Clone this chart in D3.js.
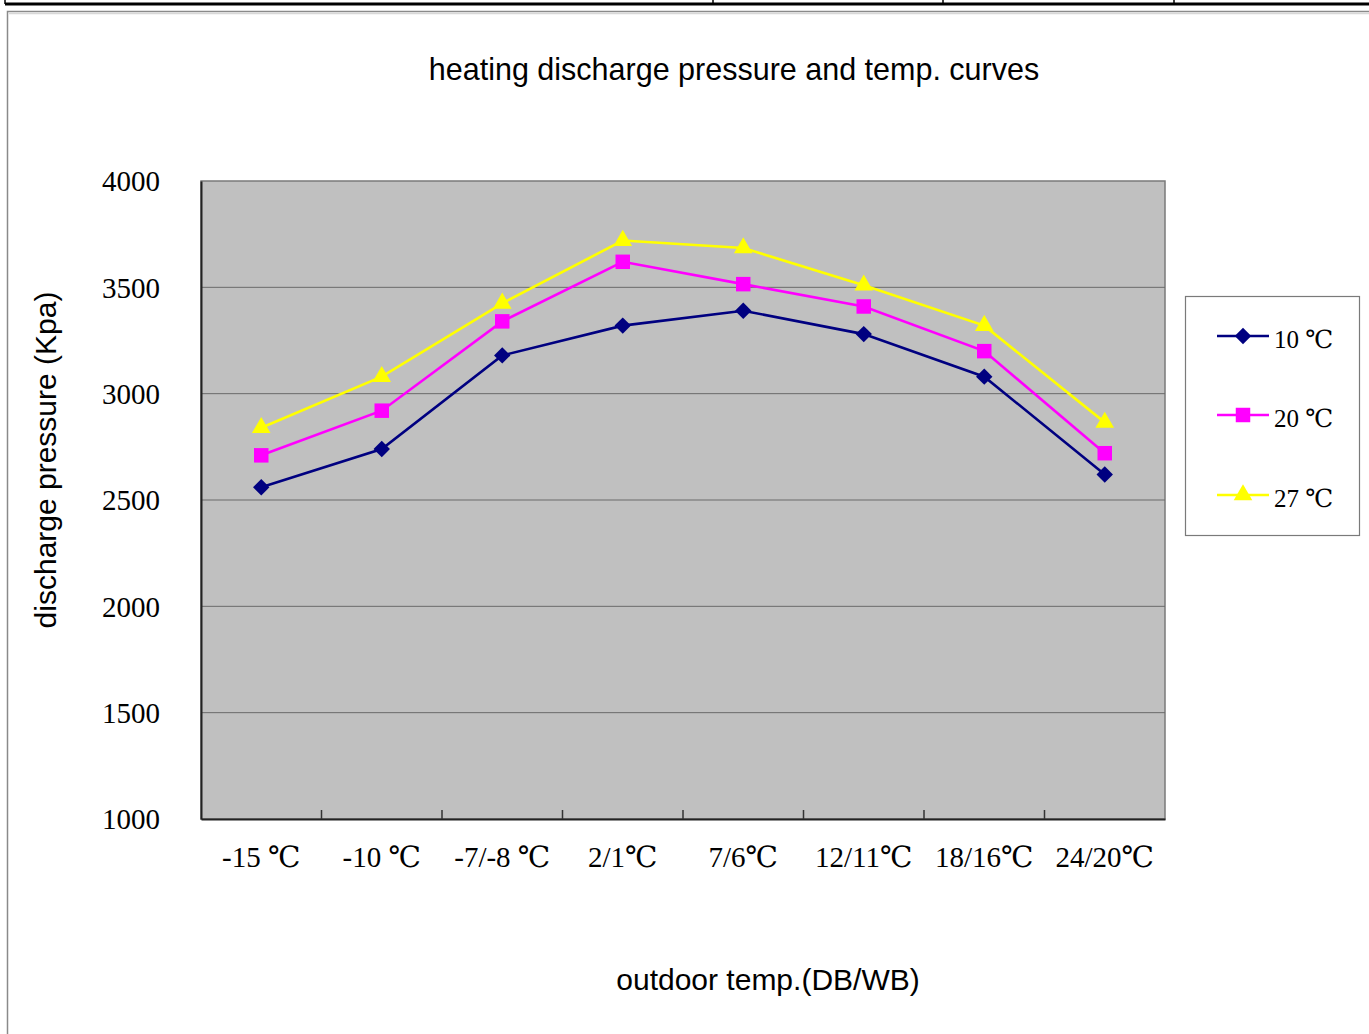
<!DOCTYPE html>
<html>
<head>
<meta charset="utf-8">
<script src="https://cdn.jsdelivr.net/npm/d3@7"></script>
<style>
  html, body { margin: 0; padding: 0; background: #fff; }
  svg { display: block; }
</style>
</head>
<body>
<svg id="chart" width="1369" height="1034"></svg>
<script>
// Outdoor conditions (DB/WB) along the x axis
const categories = ["-15 \u2103", "-10 \u2103", "-7/-8 \u2103", "2/1\u2103", "7/6\u2103", "12/11\u2103", "18/16\u2103", "24/20\u2103"];

// Discharge pressure (Kpa) for each indoor temperature
const series10 = [2560, 2740, 3180, 3320, 3390, 3280, 3080, 2620];
const series20 = [2710, 2920, 3340, 3620, 3515, 3410, 3200, 2720];
const series27 = [2840, 3080, 3425, 3720, 3685, 3510, 3320, 2865];

const seriesNames = ["10 \u2103", "20 \u2103", "27 \u2103"];
const yTicks = [1000, 1500, 2000, 2500, 3000, 3500, 4000];

// Diamond drawn as a square turned by 45 degrees
const symbolRhombus = {
  draw(context, size) {
    const r = Math.sqrt(size / 2);
    context.moveTo(0, -r);
    context.lineTo(r, 0);
    context.lineTo(0, r);
    context.lineTo(-r, 0);
    context.closePath();
  }
};

const seriesList = [
  { name: seriesNames[0], values: series10, color: "#000080", symbol: symbolRhombus, size: 135 },
  { name: seriesNames[1], values: series20, color: "#FF00FF", symbol: d3.symbolSquare, size: 210 },
  { name: seriesNames[2], values: series27, color: "#FFFF00", symbol: d3.symbolTriangle, size: 150 }
];

const svg = d3.select("#chart");
const serif = "'Liberation Serif', 'DejaVu Serif', serif";
const sans = "'Liberation Sans', Arial, sans-serif";

// Document table strip along the top edge
svg.append("line").attr("x1", 5).attr("x2", 1369).attr("y1", 4).attr("y2", 4)
  .attr("stroke", "#000").attr("stroke-width", 3);
[5, 713, 943, 1174].forEach(x => {
  svg.append("line").attr("x1", x).attr("x2", x).attr("y1", 0).attr("y2", 4)
    .attr("stroke", "#000").attr("stroke-width", 1.5);
});

// Chart object frame
svg.append("rect").attr("x", 7.5).attr("y", 11.5).attr("width", 1400).attr("height", 1100)
  .attr("fill", "none").attr("stroke", "#8a8a8a").attr("stroke-width", 1.5);
svg.append("line").attr("x1", 9).attr("x2", 1369).attr("y1", 13.5).attr("y2", 13.5)
  .attr("stroke", "#d8d8d8").attr("stroke-width", 1.5);

const plot = { left: 201, right: 1165, top: 181, bottom: 819 };

const x = d3.scaleBand().domain(categories).range([plot.left, plot.right]);
const y = d3.scaleLinear().domain([1000, 4000]).range([plot.bottom, plot.top]);

// Plot area
svg.append("rect")
  .attr("x", plot.left).attr("y", plot.top)
  .attr("width", plot.right - plot.left).attr("height", plot.bottom - plot.top)
  .attr("fill", "#C0C0C0").attr("stroke", "#7a7a7a").attr("stroke-width", 1.5);

// Horizontal gridlines
svg.append("g").selectAll("line").data(yTicks.filter(t => t > 1000 && t < 4000)).join("line")
  .attr("x1", plot.left).attr("x2", plot.right)
  .attr("y1", d => y(d)).attr("y2", d => y(d))
  .attr("stroke", "#6a6a6a").attr("stroke-width", 1);

// Y axis
const yAxis = svg.append("g").attr("transform", `translate(${plot.left},0)`)
  .call(d3.axisLeft(y).tickValues(yTicks).tickSize(0).tickPadding(41).tickFormat(d3.format("d")));
yAxis.select(".domain").attr("stroke", "#222").attr("stroke-width", 2);
yAxis.selectAll("text").attr("font-family", serif).attr("font-size", 29).attr("fill", "#000").attr("dy", "0.34em");

// X axis with inward ticks at category boundaries
const xAxis = svg.append("g").attr("transform", `translate(0,${plot.bottom})`)
  .call(d3.axisBottom(x).tickSize(0).tickPadding(27));
xAxis.select(".domain").attr("stroke", "#222").attr("stroke-width", 2);
xAxis.selectAll("text").attr("font-family", serif).attr("font-size", 29).attr("fill", "#000").attr("dy", "0.71em");
svg.append("g").selectAll("line").data(categories.slice(1)).join("line")
  .attr("x1", d => x(d)).attr("x2", d => x(d))
  .attr("y1", plot.bottom).attr("y2", plot.bottom - 9)
  .attr("stroke", "#333").attr("stroke-width", 1.5);

// Series lines and markers
const line = d3.line().x((d, i) => x(categories[i]) + x.bandwidth() / 2).y(d => y(d));
seriesList.forEach(s => {
  svg.append("path").datum(s.values)
    .attr("d", line).attr("fill", "none")
    .attr("stroke", s.color).attr("stroke-width", 2.6);
  svg.append("g").selectAll("path").data(s.values).join("path")
    .attr("d", d3.symbol().type(s.symbol).size(s.size))
    .attr("transform", (d, i) => `translate(${x(categories[i]) + x.bandwidth() / 2},${y(d)})`)
    .attr("fill", s.color);
});

// Titles
svg.append("text").attr("x", 734).attr("y", 80).attr("text-anchor", "middle")
  .attr("font-family", sans).attr("font-size", 30.5).attr("fill", "#000")
  .text("heating discharge pressure and temp. curves");
svg.append("text").attr("transform", "translate(56,460) rotate(-90)").attr("text-anchor", "middle")
  .attr("font-family", sans).attr("font-size", 30).attr("fill", "#000")
  .text("discharge pressure (Kpa)");
svg.append("text").attr("x", 768).attr("y", 990).attr("text-anchor", "middle")
  .attr("font-family", sans).attr("font-size", 30).attr("fill", "#000")
  .text("outdoor temp.(DB/WB)");

// Legend
const legend = svg.append("g");
legend.append("rect").attr("x", 1185.5).attr("y", 296.5).attr("width", 174).attr("height", 239)
  .attr("fill", "#fff").attr("stroke", "#7a7a7a").attr("stroke-width", 1.2);
const legendY = [336, 415, 495];
seriesList.forEach((s, i) => {
  const ly = legendY[i];
  legend.append("line").attr("x1", 1217).attr("x2", 1269).attr("y1", ly).attr("y2", ly)
    .attr("stroke", s.color).attr("stroke-width", 2.6);
  legend.append("path").attr("d", d3.symbol().type(s.symbol).size(s.size))
    .attr("transform", `translate(1243,${ly})`).attr("fill", s.color);
  legend.append("text").attr("x", 1274).attr("y", ly + 3).attr("dy", "0.36em")
    .attr("font-family", serif).attr("font-size", 25).attr("fill", "#000")
    .text(s.name);
});
</script>
</body>
</html>
